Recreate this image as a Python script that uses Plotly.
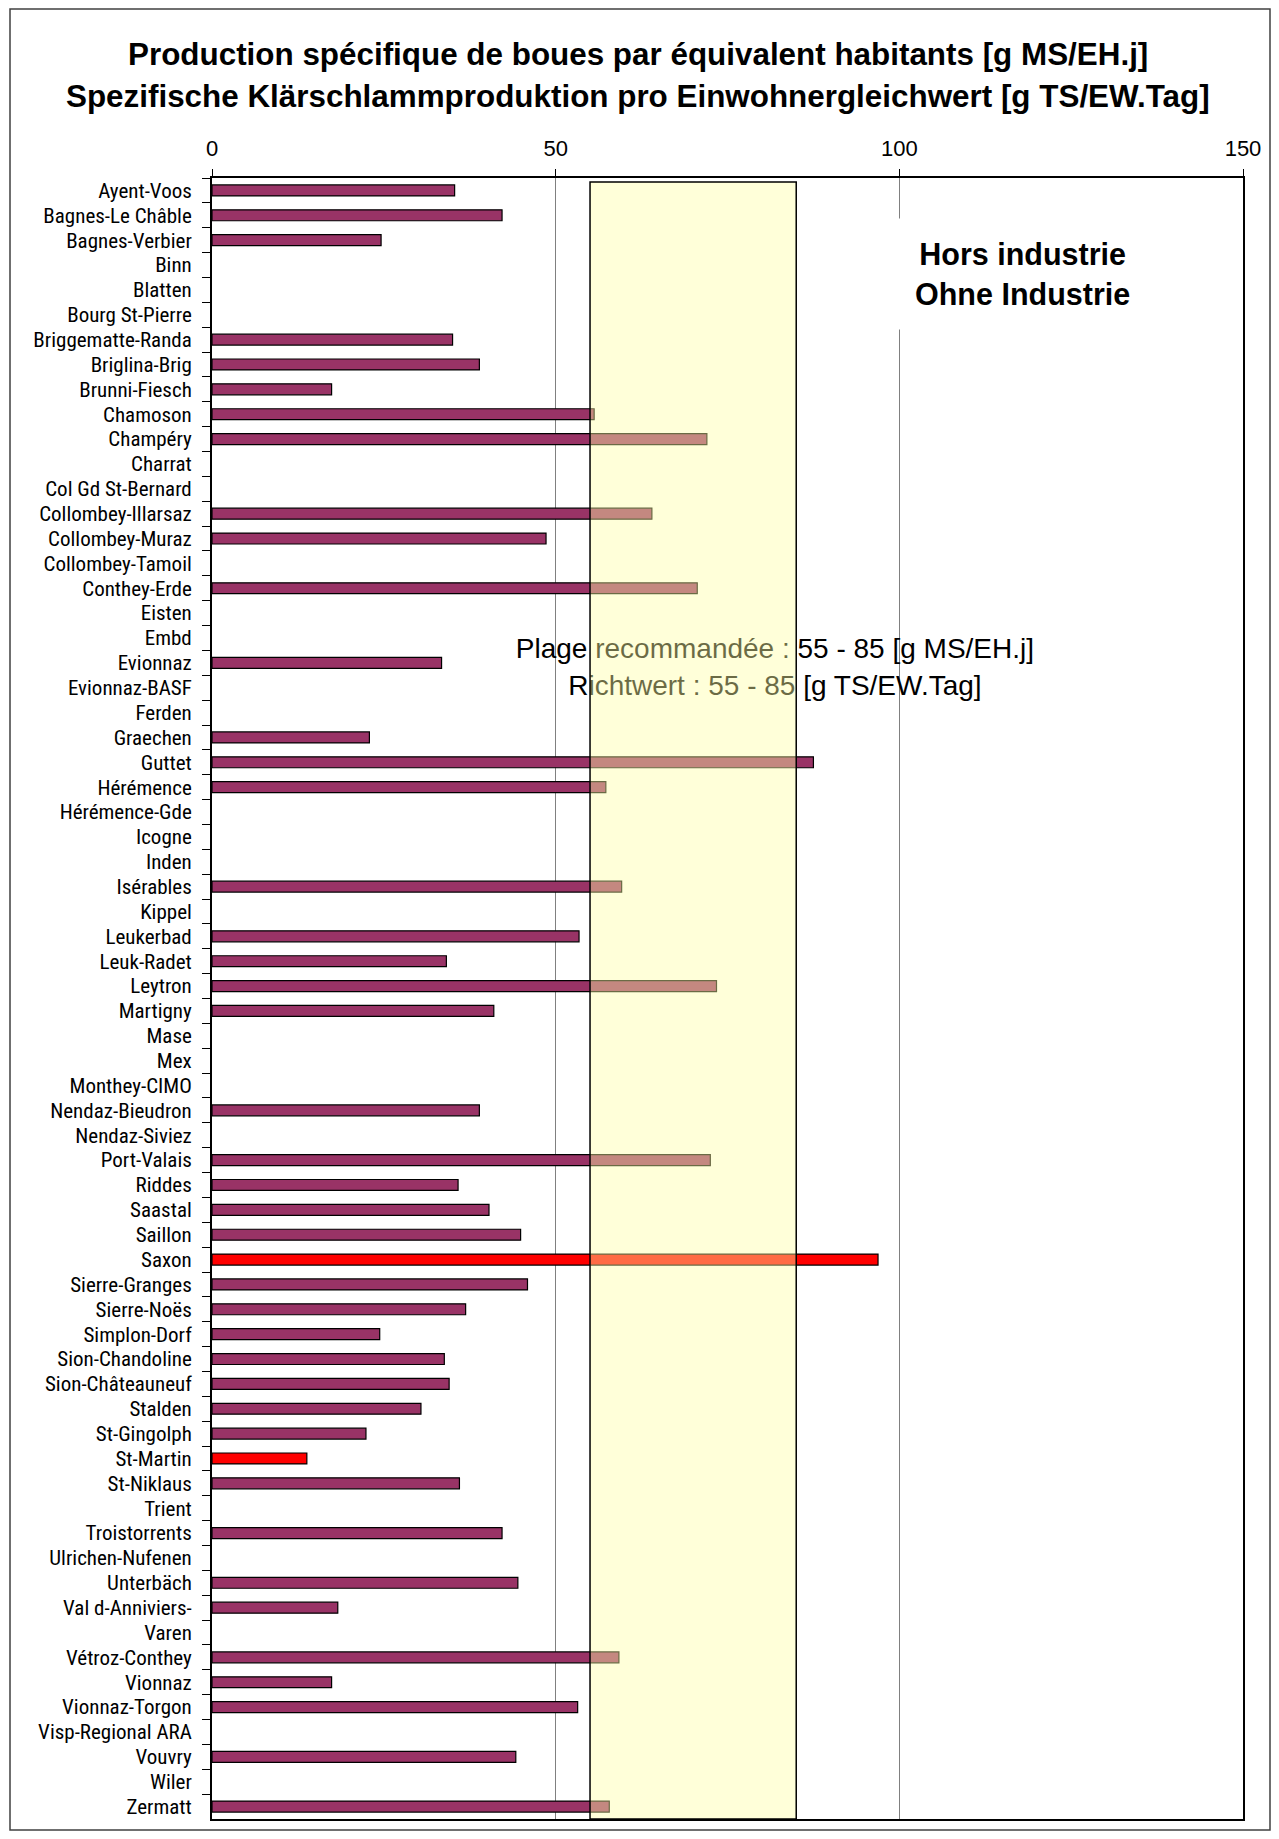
import plotly.graph_objects as go

categories = [
    "Ayent-Voos", "Bagnes-Le Châble", "Bagnes-Verbier", "Binn", "Blatten", "Bourg St-Pierre",
    "Briggematte-Randa", "Briglina-Brig", "Brunni-Fiesch", "Chamoson", "Champéry", "Charrat",
    "Col Gd St-Bernard", "Collombey-Illarsaz", "Collombey-Muraz", "Collombey-Tamoil", "Conthey-Erde",
    "Eisten", "Embd", "Evionnaz", "Evionnaz-BASF", "Ferden", "Graechen", "Guttet", "Hérémence",
    "Hérémence-Gde", "Icogne", "Inden", "Isérables", "Kippel", "Leukerbad", "Leuk-Radet", "Leytron",
    "Martigny", "Mase", "Mex", "Monthey-CIMO", "Nendaz-Bieudron", "Nendaz-Siviez", "Port-Valais",
    "Riddes", "Saastal", "Saillon", "Saxon", "Sierre-Granges", "Sierre-Noës", "Simplon-Dorf",
    "Sion-Chandoline", "Sion-Châteauneuf", "Stalden", "St-Gingolph", "St-Martin", "St-Niklaus",
    "Trient", "Troistorrents", "Ulrichen-Nufenen", "Unterbäch", "Val d-Anniviers-", "Varen",
    "Vétroz-Conthey", "Vionnaz", "Vionnaz-Torgon", "Visp-Regional ARA", "Vouvry", "Wiler", "Zermatt",
]

values = [
    35.3, 42.2, 24.6, None, None, None,
    35.0, 38.9, 17.4, 55.6, 72.0, None,
    None, 64.0, 48.6, None, 70.6,
    None, None, 33.4, None, None, 22.9, 87.5, 57.3,
    None, None, None, 59.6, None, 53.4, 34.1, 73.4,
    41.0, None, None, None, 38.9, None, 72.5,
    35.8, 40.3, 44.9, 96.9, 45.9, 36.9, 24.4,
    33.8, 34.5, 30.4, 22.4, 13.8, 36.0,
    None, 42.2, None, 44.5, 18.3, None,
    59.2, 17.4, 53.2, None, 44.2, None, 57.8,
]

highlighted = ["Saxon", "St-Martin"]

x_ticks = [0, 50, 100, 150]
recommended_range = [55, 85]

title_lines = [
    "Production spécifique de boues par équivalent habitants [g MS/EH.j]",
    "Spezifische Klärschlammproduktion pro Einwohnergleichwert [g TS/EW.Tag]",
]
note_lines = [
    "Plage recommandée : 55 - 85 [g MS/EH.j]",
    "Richtwert : 55 - 85 [g TS/EW.Tag]",
]
box_lines = ["Hors industrie", "Ohne Industrie"]

PURPLE = "#993366"
RED = "#FF0000"
bar_colors = [RED if c in highlighted else PURPLE for c in categories]

# page is offset by the 8px default body margin -> figure coords = page coords - 8
W, H = 1263, 1823
L, R, T, B = 204, 28, 170, 12
PW, PH = W - L - R, H - T - B


def px_x(fx):
    return (fx - L) / PW


def px_y(fy):
    return (H - B - fy) / PH


SANS = "Liberation Sans, Arial, sans-serif"
NARROW = "Liberation Sans Narrow, Arial Narrow, Roboto Condensed, Noto Sans Condensed, DejaVu Sans Condensed, sans-serif"

fig = go.Figure()
fig.add_trace(go.Bar(
    x=values, y=categories, orientation="h",
    marker=dict(color=bar_colors, line=dict(color="#000000", width=1.2)),
    width=0.44, showlegend=False, hoverinfo="x+y",
))

# recommended-range note (drawn as trace text so the band sits above it)
fig.add_trace(go.Scatter(
    x=[81.9, 81.9], y=[0.7118, 0.6892], xaxis="x", yaxis="y2",
    mode="text", text=note_lines, textposition="middle center",
    textfont=dict(family=SANS, size=28, color="#000000"),
    showlegend=False, hoverinfo="skip",
))

fig.update_layout(
    width=W, height=H,
    margin=dict(l=L, r=R, t=T, b=B, autoexpand=False),
    paper_bgcolor="#FFFFFF", plot_bgcolor="#FFFFFF",
    font=dict(family=SANS, color="#000000"),
    xaxis=dict(
        range=[x_ticks[0], x_ticks[-1]], tickvals=x_ticks, side="top",
        showgrid=True, gridcolor="#808080", gridwidth=1,
        showline=True, linecolor="#000000", linewidth=2, mirror=True,
        ticks="outside", ticklen=7, tickcolor="#000000", tickwidth=1,
        tickfont=dict(size=22, family=SANS), ticklabelstandoff=4,
        zeroline=False, fixedrange=True, automargin=False,
    ),
    yaxis=dict(
        type="category", categoryorder="array", categoryarray=categories,
        autorange="reversed", tickson="boundaries",
        tickmode="linear", tick0=0, dtick=1,
        showline=True, linecolor="#000000", linewidth=2, mirror=True,
        ticks="outside", ticklen=8, tickcolor="#000000", tickwidth=1,
        tickfont=dict(size=21, family=NARROW), ticklabelstandoff=14,
        showgrid=False, fixedrange=True, automargin=False,
    ),
    yaxis2=dict(range=[0, 1], overlaying="y", visible=False, fixedrange=True),
)

# recommended band (semi-transparent, above bars and note text)
fig.add_shape(
    type="rect", xref="x", yref="paper",
    x0=recommended_range[0], x1=recommended_range[1], y0=0, y1=0.9975,
    fillcolor="rgba(255,255,165,0.42)", line=dict(color="#000000", width=1.5),
    layer="above",
)

# outer frame
fig.add_shape(
    type="rect", xref="paper", yref="paper",
    x0=px_x(2), x1=px_x(1262), y0=px_y(1822), y1=px_y(1),
    line=dict(color="#404040", width=1.5), fillcolor="rgba(0,0,0,0)", layer="below",
)

# titles
for line, ypx in zip(title_lines, [47, 88]):
    fig.add_annotation(
        text="<b>%s</b>" % line, xref="paper", yref="paper",
        x=px_x(630), y=px_y(ypx),
        showarrow=False, xanchor="center", yanchor="middle",
        font=dict(size=31.4, family=SANS, color="#000000"),
    )

# Hors industrie box
fig.add_annotation(
    text="<b>%s<br>%s</b>" % tuple(box_lines), xref="x", yref="paper",
    x=117.9, y=px_y(266),
    showarrow=False, xanchor="center", yanchor="middle",
    font=dict(size=30.5, family=SANS, color="#000000"),
    bgcolor="#FFFFFF", borderpad=18,
)

fig.write_html("out.html")
